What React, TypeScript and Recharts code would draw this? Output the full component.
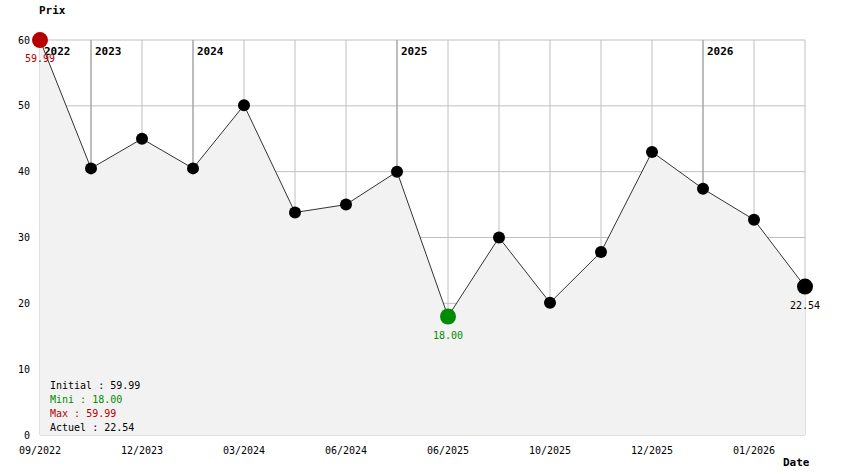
import React from "react";
import { ComposedChart, Area, Line, XAxis, YAxis, CartesianGrid, ReferenceLine } from "recharts";

const dates = ["09/2022", "", "12/2023", "", "03/2024", "", "06/2024", "", "06/2025", "", "10/2025", "", "12/2025", "", "01/2026", ""];
const prices = [59.99, 40.5, 45.0, 40.5, 50.1, 33.8, 35.0, 40.0, 18.0, 30.0, 20.1, 27.8, 43.0, 37.4, 32.7, 22.54];
const yearIdx = [0, 1, 3, 7, 13];
const years = ["2022", "2023", "2024", "2025", "2026"];
const yTicks = [0, 10, 20, 30, 40, 50, 60];

const RED = "#b40000";
const GREEN = "#008c00";
const FONT = "'DejaVu Sans Mono', 'Liberation Mono', monospace";

const data = prices.map((p, i) => ({ i, price: p }));
const minVal = Math.min(...prices);
const maxVal = Math.max(...prices);
const minIdx = prices.indexOf(minVal);
const lastIdx = prices.length - 1;

const renderDot = (props: any) => {
  const { cx, cy, index } = props;
  let fill = "#000";
  let r = 6;
  let label: string | null = null;
  if (index === 0) {
    fill = RED;
    r = 8;
    label = prices[0].toFixed(2);
  } else if (index === minIdx) {
    fill = GREEN;
    r = 8;
    label = minVal.toFixed(2);
  } else if (index === lastIdx) {
    r = 8;
    label = prices[lastIdx].toFixed(2);
  }
  return (
    <g key={`dot-${index}`}>
      <circle cx={cx} cy={cy} r={r} fill={fill} />
      {label && (
        <text x={cx} y={cy + 22} textAnchor="middle" fontSize={10} fontFamily={FONT} fill={fill}>
          {label}
        </text>
      )}
    </g>
  );
};

const yearLabel = (year: string) => (props: any) => {
  const { viewBox } = props;
  return (
    <text x={viewBox.x + 4} y={viewBox.y + 15} fontSize={11} fontWeight="bold" fontFamily={FONT} fill="#000">
      {year}
    </text>
  );
};

export default function App() {
  const anyZ = (z: number) => ({ zIndex: z } as any);
  return (
    <div style={{ position: "absolute", left: 0, top: 0, width: 844, height: 474, background: "#fff", fontFamily: FONT }}>
      <ComposedChart width={844} height={474} data={data} margin={{ top: 40, right: 39, bottom: 19, left: 0 }}>
        <CartesianGrid stroke="#c0c0c0" strokeWidth={1} {...anyZ(-100)} />
        {yearIdx.map((x, k) => (
          <ReferenceLine
            key={years[k]}
            x={x}
            stroke={k === 0 ? "none" : "#999"}
            strokeWidth={1}
            label={yearLabel(years[k])}
            {...anyZ(-50)}
          />
        ))}
        <XAxis
          dataKey="i"
          type="number"
          domain={[0, 15]}
          ticks={data.map((d) => d.i)}
          interval={0}
          tickFormatter={(v: number) => dates[v]}
          axisLine={false}
          tickLine={false}
          tickSize={0}
          tickMargin={12}
          height={20}
          tick={{ fontSize: 10, fontFamily: FONT, fill: "#000" }}
        />
        <YAxis
          type="number"
          domain={[0, 60]}
          ticks={yTicks}
          interval={0}
          axisLine={false}
          tickLine={false}
          tickSize={0}
          tickMargin={10}
          width={40}
          tick={{ fontSize: 10, fontFamily: FONT, fill: "#000" }}
        />
        <Area dataKey="price" type="linear" fill="#f2f2f2" fillOpacity={1} stroke="none" isAnimationActive={false} {...anyZ(100)} />
        <Line dataKey="price" type="linear" stroke="#333" strokeWidth={1} dot={renderDot} activeDot={false} isAnimationActive={false} {...anyZ(400)} />
      </ComposedChart>
      <div style={{ position: "absolute", left: 39, top: 4, fontSize: 11, fontWeight: "bold" }}>Prix</div>
      <div style={{ position: "absolute", left: 783, top: 456, fontSize: 11, fontWeight: "bold" }}>Date</div>
      <div style={{ position: "absolute", left: 50, top: 379, fontSize: 10, lineHeight: "14px" }}>
        <div style={{ color: "#000" }}>Initial : {prices[0].toFixed(2)}</div>
        <div style={{ color: GREEN }}>Mini : {minVal.toFixed(2)}</div>
        <div style={{ color: RED }}>Max : {maxVal.toFixed(2)}</div>
        <div style={{ color: "#000" }}>Actuel : {prices[lastIdx].toFixed(2)}</div>
      </div>
    </div>
  );
}
